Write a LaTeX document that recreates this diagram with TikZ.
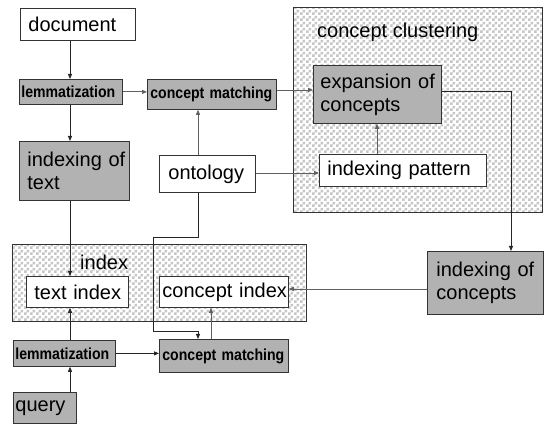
\documentclass[tikz,border=0pt]{standalone}
\usepackage{fontspec}
\setmainfont{Liberation Sans}
\newfontfamily\narrowbold[FakeStretch=0.88]{Liberation Sans Bold}
\usetikzlibrary{arrows.meta,patterns}
\pgfdeclarepatternformonly{mycheck}{\pgfpointorigin}{\pgfqpoint{6pt}{6pt}}{\pgfqpoint{6pt}{6pt}}{%
  \pgfpathrectangle{\pgfpointorigin}{\pgfqpoint{3pt}{3pt}}%
  \pgfpathrectangle{\pgfqpoint{3pt}{3pt}}{\pgfqpoint{3pt}{3pt}}%
  \pgfusepath{fill}}
\newcommand\fbig{\fontsize{20}{23}\selectfont}
\newcommand\fsmallb{\narrowbold\fontsize{16}{18}\selectfont}
\begin{document}
\begin{tikzpicture}[x=1pt,y=-1pt,
  box/.style={draw=black!80, line width=0.8pt, anchor=north west, inner ysep=0pt, align=left, font=\fbig},
  gbox/.style={box, fill=gray!60},
  wbox/.style={box, fill=white},
  sbox/.style={gbox, font=\fsmallb},
  cluster/.style={draw=black!80, line width=0.8pt, anchor=north west, inner sep=0pt,
    preaction={fill=white}, pattern=mycheck, pattern color=gray!45},
  clabel/.style={anchor=west, inner sep=0pt, font=\fbig},
  conn/.style={line width=0.8pt, draw=black!85, -{Triangle[length=5pt,width=4pt]}},
  gconn/.style={conn, draw=gray!75!black}]
\useasboundingbox (0,0) rectangle (546,435);
\fill[white] (0,0) rectangle (546,435);

% clusters
\node[cluster, minimum width=249pt, minimum height=205pt] (ccbox) at (293,7) {};
\node[clabel] (ccl) at (317,32) {concept clustering};
\node[cluster, minimum width=294pt, minimum height=77pt] (ixbox) at (12,244) {};
\node[clabel] (ixl) at (80,262) {index};

% boxes
\node[wbox, minimum height=32pt, inner xsep=8pt, text width=99pt] (doc) at (20,8) {document};
\node[sbox, minimum height=25pt, inner xsep=2pt, text width=99pt] (lem1) at (19,79) {lemmatization};
\node[sbox, minimum height=30pt, inner xsep=3pt, text width=123pt] (cm1) at (147,79) {concept matching};
\node[gbox, minimum height=59pt, inner xsep=8pt, text width=94pt] (iot) at (19,141) {\mbox{indexing of}\\text};
\node[wbox, minimum height=37pt, inner xsep=9pt, text width=78pt] (ont) at (159,155) {ontology};
\node[gbox, minimum height=58pt, inner xsep=7pt, text width=114pt] (exp) at (313,65) {\mbox{expansion of}\\concepts};
\node[wbox, minimum height=32pt, inner xsep=8pt, text width=151pt] (ip) at (319,154) {indexing pattern};
\node[gbox, minimum height=63pt, inner xsep=9pt, text width=98pt] (ioc) at (427,251) {\mbox{indexing of}\\concepts};
\node[wbox, minimum height=31pt, inner xsep=8pt, text width=86pt] (ti) at (26,276) {\mbox{text index}};
\node[wbox, minimum height=31pt, inner xsep=3pt, text width=123pt] (ci) at (159,276) {\mbox{concept index}};
\node[sbox, minimum height=26pt, inner xsep=2pt, text width=98pt] (lem2) at (13,340) {lemmatization};
\node[sbox, minimum height=33pt, inner xsep=3pt, text width=123pt] (cm2) at (159,339) {concept matching};
\node[gbox, minimum height=31pt, inner xsep=2pt, text width=59pt] (query) at (13,392) {query};

% helper coordinates
\coordinate (x70) at (70,0);
\coordinate (x198) at (198,0);
\coordinate (x211) at (211,0);
\coordinate (x377) at (377,0);
\coordinate (x511) at (511,0);
\coordinate (y90) at (0,90);
\coordinate (y91) at (0,91);
\coordinate (y173) at (0,173);
\coordinate (y289) at (0,289);
\coordinate (o1) at (153,237);
\coordinate (o2) at (153,331);
\coordinate (o3) at (198,331);

% connectors
\draw[conn] (doc.south -| x70) -- (lem1.north -| x70);
\draw[conn] (lem1.south -| x70) -- (iot.north -| x70);
\draw[gconn] (lem1.east) -- (cm1.west |- lem1.east);
\draw[gconn] (ont.north -| x198) -- (cm1.south -| x198);
\draw[gconn] (cm1.east |- y90) -- (exp.west |- y90);
\draw[gconn] (ont.east |- y173) -- (ip.west |- y173);
\draw[gconn] (ip.north -| x377) -- (exp.south -| x377);
\draw[conn] (exp.east |- y91) -| (ioc.north -| x511);
\draw[gconn] (ioc.west |- y289) -- (ci.east |- y289);
\draw[conn] (iot.south -| x70) -- (ti.north -| x70);
\draw[conn] (lem2.north -| x70) -- (ti.south -| x70);
\draw[conn] (query.north -| x70) -- (lem2.south -| x70);
\draw[conn] (lem2.east) -- (cm2.west |- lem2.east);
\draw[gconn] (cm2.north -| x211) -- (ci.south -| x211);
\draw[conn] (ont.south -| x198) |- (o1) -- (o2) -- (o3) -- (cm2.north -| x198);
\end{tikzpicture}
\end{document}
